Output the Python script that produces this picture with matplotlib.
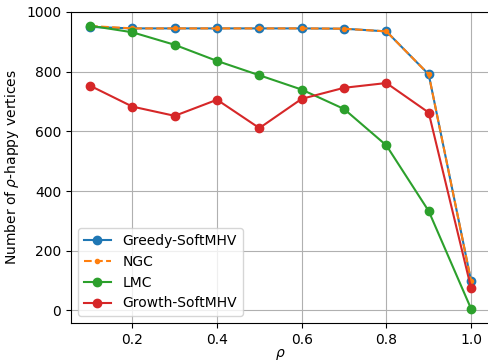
import matplotlib
matplotlib.use("Agg")
import matplotlib.pyplot as plt

rho = [0.1, 0.2, 0.3, 0.4, 0.5, 0.6, 0.7, 0.8, 0.9, 1.0]
greedy = [950, 945, 945, 945, 945, 945, 944, 935, 791, 100]
ngc = [953, 945, 945, 945, 945, 945, 944, 935, 791, 100]
lmc = [954, 932, 890, 836, 788, 740, 675, 553, 333, 6]
growth = [753, 683, 652, 706, 611, 709, 746, 762, 663, 76]

fig = plt.figure(figsize=(4.89, 3.61), dpi=100)
ax = fig.add_axes([0.1452, 0.1053, 0.8570, 0.8615])

ax.plot(rho, greedy, "o-", label="Greedy-SoftMHV")
ax.plot(rho, ngc, ".--", label="NGC")
ax.plot(rho, lmc, "o-", label="LMC")
ax.plot(rho, growth, "o-", label="Growth-SoftMHV")

ax.set_xlim(0.055, 1.045)
ax.set_ylim(-42, 1000)
ax.set_xticks([0.2, 0.4, 0.6, 0.8, 1.0])
ax.set_xlabel(r"$\rho$", labelpad=0)
ax.set_ylabel(r"Number of $\rho$-happy vertices")
ax.legend(loc="lower left")
ax.grid()
# right edge is cropped off in the original figure
ax.spines["right"].set_visible(False)

fig.savefig("out.png", dpi=100)
